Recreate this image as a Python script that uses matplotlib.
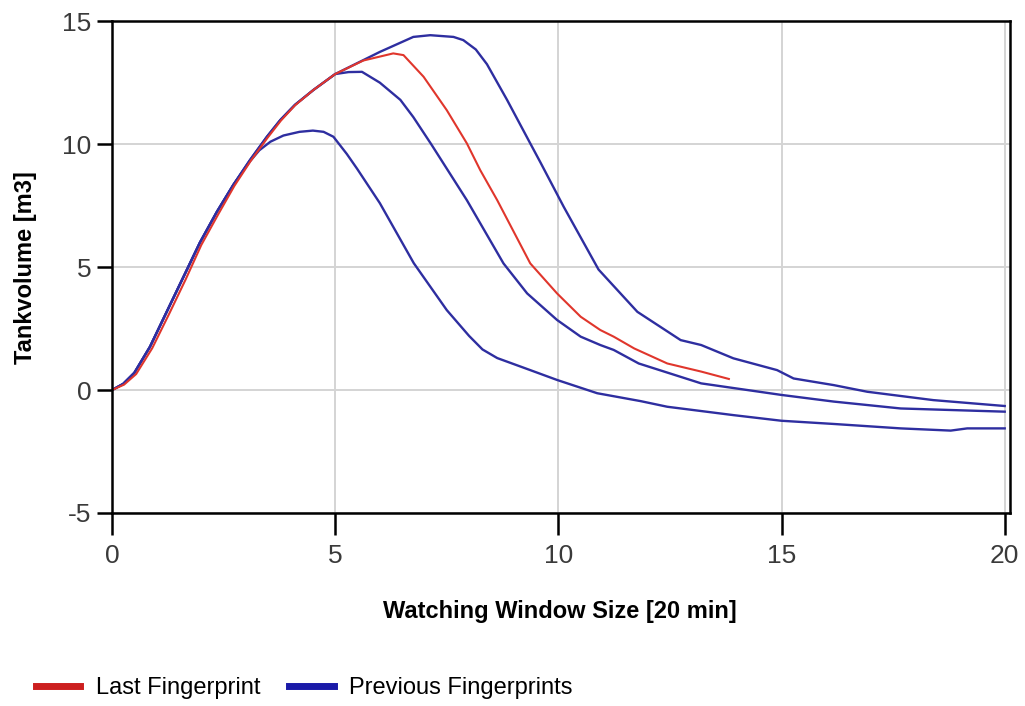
import numpy as np
import matplotlib.pyplot as plt
from matplotlib.lines import Line2D

plt.rcParams['axes.unicode_minus'] = False

# shared rising part of the previous fingerprints
rise_x = [0, 0.25, 0.5, 0.85, 1.23, 1.6, 1.97, 2.35, 2.72, 3.09, 3.47, 3.77, 4.1, 4.51, 5.0]
rise_y = [0, 0.25, 0.7, 1.76, 3.2, 4.6, 6.0, 7.25, 8.35, 9.35, 10.3, 10.98, 11.6, 12.2, 12.85]

# previous fingerprint 1 (lowest peak)
prev1_x = [0, 0.25, 0.5, 0.85, 1.23, 1.6, 1.97, 2.35, 2.72, 3.09, 3.3, 3.55, 3.84, 4.2, 4.5,
           4.74, 4.96, 5.26, 5.49, 6.0, 6.76, 7.5, 8.0, 8.3, 8.63, 9.37, 9.97, 10.87, 11.84,
           12.44, 13.92, 15.0, 16.17, 17.67, 18.79, 19.16, 20.0]
prev1_y = [0, 0.25, 0.7, 1.76, 3.2, 4.6, 6.0, 7.25, 8.35, 9.3, 9.75, 10.1, 10.35, 10.5, 10.55,
           10.5, 10.3, 9.6, 9.0, 7.6, 5.16, 3.25, 2.2, 1.65, 1.3, 0.81, 0.41, -0.13, -0.45,
           -0.68, -1.02, -1.25, -1.38, -1.56, -1.65, -1.56, -1.56]

# previous fingerprint 2
prev2_x = rise_x + [5.3, 5.6, 6.0, 6.46, 6.75, 7.15, 7.95, 8.77, 9.3, 9.97, 10.5, 10.94,
                    11.24, 11.8, 13.2, 15.0, 16.17, 17.67, 20.0]
prev2_y = rise_y + [12.93, 12.94, 12.5, 11.8, 11.1, 10.0, 7.72, 5.15, 3.93, 2.85, 2.17, 1.83,
                    1.63, 1.08, 0.27, -0.2, -0.47, -0.75, -0.88]

# previous fingerprint 3 (highest peak)
prev3_x = rise_x + [5.5, 6.0, 6.75, 7.13, 7.65, 7.87, 8.15, 8.4, 8.85, 9.37, 9.6, 10.12, 10.9,
                    11.77, 12.74, 13.2, 13.92, 14.9, 15.27, 16.17, 16.92, 18.4, 20.0]
prev3_y = rise_y + [13.3, 13.75, 14.36, 14.43, 14.36, 14.23, 13.85, 13.25, 11.8, 10.03, 9.25,
                    7.45, 4.9, 3.18, 2.03, 1.83, 1.29, 0.81, 0.47, 0.2, -0.07, -0.41, -0.65]

# last fingerprint (red)
last_x = [0, 0.27, 0.54, 0.9, 1.28, 1.65, 2.0, 2.38, 2.74, 3.1, 3.48, 3.78, 4.1, 4.51, 5.0,
          5.63, 6.3, 6.53, 6.98, 7.5, 7.95, 8.25, 8.63, 9.37, 9.97, 10.5, 10.94, 11.24,
          11.7, 12.44, 13.2, 13.82]
last_y = [0, 0.22, 0.65, 1.7, 3.1, 4.5, 5.9, 7.15, 8.3, 9.3, 10.25, 10.95, 11.58, 12.2,
          12.85, 13.4, 13.69, 13.62, 12.74, 11.38, 10.03, 8.94, 7.72, 5.15, 3.93, 2.98,
          2.44, 2.17, 1.69, 1.08, 0.75, 0.45]

previous = [(prev1_x, prev1_y), (prev2_x, prev2_y), (prev3_x, prev3_y)]

blue = '#2e2ea0'
red = '#e0362c'

fig = plt.figure(figsize=(10.25, 7.06), dpi=100)
ax = fig.add_axes([0.1093, 0.2734, 0.8757, 0.6966])

for px, py in previous:
    ax.plot(px, py, color=blue, lw=1.7)
ax.plot(last_x, last_y, color=red, lw=1.5)

ax.set_xlim(0, 20.11)
ax.set_ylim(-5, 15)
ax.set_xticks([0, 5, 10, 15, 20])
ax.set_yticks([-5, 0, 5, 10, 15])
ax.grid(True, color='#d4d4d4', lw=1.4)
ax.set_axisbelow(True)
for s in ax.spines.values():
    s.set_linewidth(1.8)
    s.set_color('black')
ax.tick_params(axis='x', length=16, width=1.8, pad=6, labelsize=19)
ax.tick_params(axis='y', length=11, width=1.8, pad=4, labelsize=19)
for lab in ax.get_xticklabels() + ax.get_yticklabels():
    lab.set_fontfamily('Liberation Sans')
    lab.set_color('#3a3a3a')

ax.set_xlabel('Watching Window Size [20 min]', fontsize=17, fontweight='bold',
              family='Liberation Sans')
ax.set_ylabel('Tankvolume [m3]', fontsize=17, fontweight='bold',
              family='Liberation Sans')
ax.xaxis.set_label_coords(0.499, -0.177)
ax.yaxis.set_label_coords(-0.0835, 0.5)

handles = [Line2D([], [], color='#cc1f1f', lw=5), Line2D([], [], color='#1a1aa8', lw=5)]
fig.legend(handles, ['Last Fingerprint', 'Previous Fingerprints'], loc='center left',
           bbox_to_anchor=(0.014, 0.025), ncol=2, frameon=False, handlelength=1.9,
           handletextpad=0.65, columnspacing=1.2,
           prop={'family': 'Liberation Sans', 'size': 17})

fig.savefig('out.png', dpi=100)
